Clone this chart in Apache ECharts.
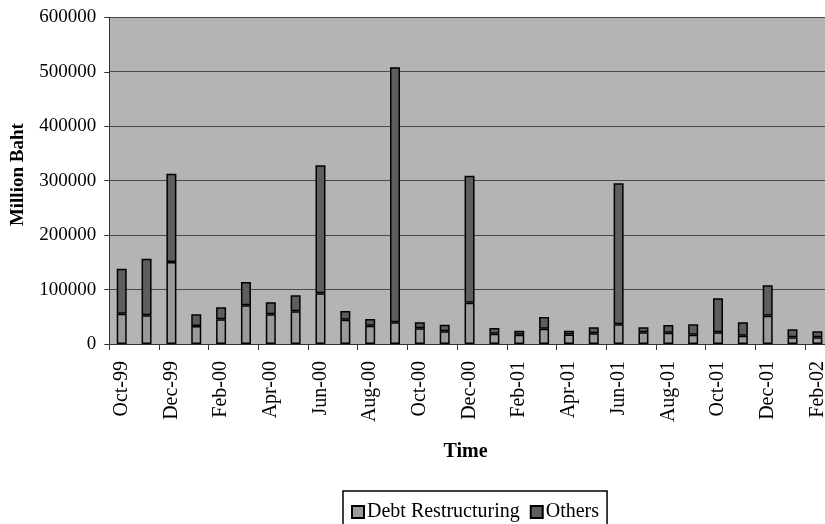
<!DOCTYPE html>
<html>
<head>
<meta charset="utf-8">
<script src="https://cdn.jsdelivr.net/npm/echarts@6/dist/echarts.min.js"></script>
<style>
  html, body { margin: 0; padding: 0; background: #fff; overflow: hidden; }
  #chart { width: 835px; height: 524px; }
</style>
</head>
<body>
<div id="chart"></div>
<script>
// Monthly categories, Oct-99 .. Feb-02
const months = [
  'Oct-99', 'Nov-99', 'Dec-99', 'Jan-00', 'Feb-00', 'Mar-00', 'Apr-00', 'May-00',
  'Jun-00', 'Jul-00', 'Aug-00', 'Sep-00', 'Oct-00', 'Nov-00', 'Dec-00', 'Jan-01',
  'Feb-01', 'Mar-01', 'Apr-01', 'May-01', 'Jun-01', 'Jul-01', 'Aug-01', 'Sep-01',
  'Oct-01', 'Nov-01', 'Dec-01', 'Jan-02', 'Feb-02'
];

// Million Baht, debt restructuring portion
const debtRestructuring = [
  55700, 52600, 150600, 33100, 45300, 71000, 54500, 60000,
  93100, 44700, 33700, 39800, 28800, 23300, 75800, 18900,
  17100, 28200, 17400, 19600, 36100, 21400, 20800, 17100,
  21400, 15300, 52000, 12200, 12200
];

// Million Baht, all other purposes
const others = [
  82600, 104100, 162200, 21400, 22100, 42900, 22100, 29400,
  235000, 15900, 12200, 468300, 11000, 11900, 233400, 10500,
  7400, 21400, 7100, 11000, 259000, 9200, 14100, 19000,
  62500, 24500, 55700, 14700, 11400
];

const yTicks = { min: 0, max: 600000, step: 100000 };

const serif = '"Liberation Serif", "Times New Roman", serif';

const chart = echarts.init(document.getElementById('chart'), null, { renderer: 'canvas' });

chart.setOption({
  animation: false,
  backgroundColor: '#ffffff',
  textStyle: { fontFamily: serif, color: '#000' },
  grid: {
    left: 109.3,
    top: 17.3,
    right: 5.2,
    bottom: 180,
    show: true,
    backgroundColor: '#b4b4b4',
    borderWidth: 0
  },
  legend: {
    left: 343,
    top: 491,
    padding: [11, 8, 13, 8],
    borderColor: '#000',
    borderWidth: 1.5,
    itemWidth: 12,
    itemHeight: 12,
    itemGap: 10,
    icon: 'rect',
    textStyle: { fontFamily: serif, fontSize: 20, color: '#000', padding: [0, 0, 0, -2] },
    data: ['Debt Restructuring', 'Others']
  },
  xAxis: {
    type: 'category',
    data: months,
    name: 'Time',
    nameLocation: 'middle',
    nameGap: 98,
    nameTextStyle: { fontFamily: serif, fontSize: 20, fontWeight: 'bold', color: '#000', padding: [0, 8, 0, 0] },
    axisLine: { lineStyle: { color: '#333', width: 1 } },
    axisTick: { show: true, interval: 1, length: 6, lineStyle: { color: '#333', width: 1 } },
    axisLabel: {
      interval: 1,
      rotate: 90,
      margin: 17,
      fontFamily: serif,
      fontSize: 20,
      color: '#000'
    },
    splitLine: { show: false }
  },
  yAxis: {
    type: 'value',
    min: yTicks.min,
    max: yTicks.max,
    interval: yTicks.step,
    name: 'Million Baht',
    nameLocation: 'middle',
    nameGap: 82,
    nameRotate: 90,
    nameTextStyle: { fontFamily: serif, fontSize: 19, fontWeight: 'bold', color: '#000', padding: [0, 0, 0, 12] },
    axisLine: { show: true, lineStyle: { color: '#333', width: 1 } },
    axisTick: { show: true, length: 5, lineStyle: { color: '#333', width: 1 } },
    axisLabel: {
      margin: 13,
      fontFamily: serif,
      fontSize: 19,
      color: '#000',
      formatter: (v) => String(v)
    },
    splitLine: { show: true, lineStyle: { color: '#4a4a4a', width: 1.2 } }
  },
  series: [
    {
      name: 'Debt Restructuring',
      type: 'bar',
      stack: 'credit',
      barWidth: 10,
      data: debtRestructuring,
      itemStyle: { color: '#9a9a9a', borderColor: '#000', borderWidth: 1.5 }
    },
    {
      name: 'Others',
      type: 'bar',
      stack: 'credit',
      barWidth: 10,
      data: others,
      itemStyle: { color: '#5e5e5e', borderColor: '#000', borderWidth: 1.5 }
    }
  ]
});
</script>
</body>
</html>
